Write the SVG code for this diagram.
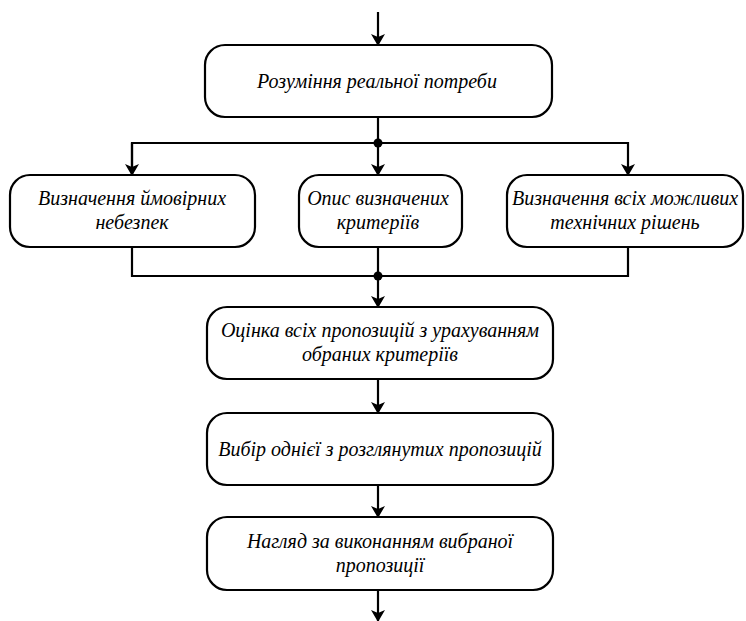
<svg xmlns="http://www.w3.org/2000/svg" width="746" height="621" viewBox="0 0 746 621">
<style>
.box{fill:#fff;stroke:#000;stroke-width:2.2}
.ln{fill:none;stroke:#000;stroke-width:2.2}
.t{font-family:'Times New Roman',Tinos,'DejaVu Serif',serif;font-style:italic;font-size:20px;fill:#000;text-anchor:middle}
</style>
<defs>
<marker id="ah" markerWidth="12" markerHeight="14" refX="11" refY="7" orient="auto" markerUnits="userSpaceOnUse">
<path d="M0,0 L12,7 L0,14 L3,7 Z" fill="#000"/>
</marker>
</defs>
<rect width="746" height="621" fill="#fff"/>
<g id="connectors">
<line class="ln" x1="378" y1="12" x2="378" y2="45" marker-end="url(#ah)"/>
<line class="ln" x1="378" y1="117" x2="378" y2="143"/>
<polyline class="ln" points="132,175 132,143 628,143 628,175" marker-end="url(#ah)"/>
<line class="ln" x1="132" y1="143" x2="132" y2="175" marker-end="url(#ah)"/>
<line class="ln" x1="378" y1="143" x2="378" y2="175" marker-end="url(#ah)"/>
<circle cx="378" cy="143" r="4.5" fill="#000"/>
<polyline class="ln" points="132,247 132,276 628,276 628,247"/>
<line class="ln" x1="378" y1="247" x2="378" y2="307" marker-end="url(#ah)"/>
<circle cx="378" cy="276" r="4.5" fill="#000"/>
<line class="ln" x1="378" y1="379" x2="378" y2="413" marker-end="url(#ah)"/>
<line class="ln" x1="378" y1="485" x2="378" y2="517" marker-end="url(#ah)"/>
<line class="ln" x1="378" y1="590" x2="378" y2="621" marker-end="url(#ah)"/>
</g>
<g id="n1">
<rect class="box" x="205" y="45" width="347" height="72" rx="20"/>
<text class="t" x="377" y="88">Розуміння реальної потреби</text>
</g>
<g id="n2">
<rect class="box" x="10" y="175" width="245" height="72" rx="20"/>
<text class="t" x="132" y="205">Визначення ймовірних</text>
<text class="t" x="132" y="229">небезпек</text>
</g>
<g id="n3">
<rect class="box" x="299" y="175" width="163" height="72" rx="20"/>
<text class="t" x="378" y="205">Опис визначених</text>
<text class="t" x="378" y="229">критеріїв</text>
</g>
<g id="n4">
<rect class="box" x="507" y="175" width="236" height="72" rx="20"/>
<text class="t" x="625" y="205">Визначення всіх можливих</text>
<text class="t" x="625" y="229">технічних рішень</text>
</g>
<g id="n5">
<rect class="box" x="207" y="307" width="346" height="72" rx="20"/>
<text class="t" x="380" y="337">Оцінка всіх пропозицій з урахуванням</text>
<text class="t" x="380" y="361">обраних критеріїв</text>
</g>
<g id="n6">
<rect class="box" x="207" y="413" width="346" height="72" rx="20"/>
<text class="t" x="380" y="456">Вибір однієї з розглянутих пропозицій</text>
</g>
<g id="n7">
<rect class="box" x="207" y="517" width="346" height="73" rx="20"/>
<text class="t" x="380" y="548">Нагляд за виконанням вибраної</text>
<text class="t" x="380" y="572">пропозиції</text>
</g>
</svg>
